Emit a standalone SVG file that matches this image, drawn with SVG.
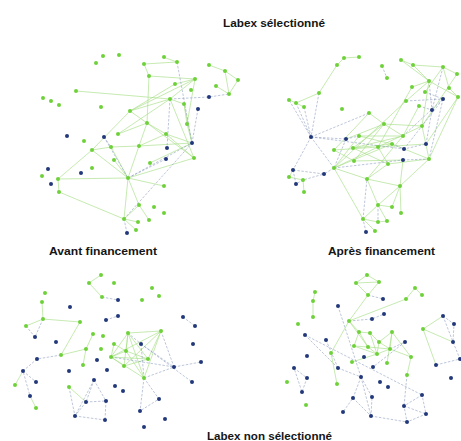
<svg xmlns="http://www.w3.org/2000/svg" width="461" height="441" viewBox="0 0 461 441">
<style>
.ge{fill:none;stroke:#a6de85;stroke-width:0.75;stroke-opacity:0.85}
.be{fill:none;stroke:#8797ba;stroke-width:0.65;stroke-dasharray:2.5 1.5;stroke-opacity:0.85}
.gn{fill:#6fd13a}
.bn{fill:#22387a}
.t{font-family:"Liberation Sans",Arial,sans-serif;font-weight:bold;font-size:10.5px;fill:#151515}
</style>
<rect width="461" height="441" fill="#fff"/>
<g id="connectors">
<path class="ge" d="M144,64L177,62M163,57L177,62M144,64L149,76L147,123M76,91L170,99M209,65L225,71L238,80L229,94M225,71L229,94M170,99L195,79M175,84L195,79M130,111L195,79M130,111L175,84M130,111L170,99M170,99L184,104L187,124M195,79L187,124M130,111L92,150L58,179L59,192L124,219M58,179L128,178M147,123L118,134M147,123L166,134M147,123L139,146M147,123L194,158M92,150L111,147L139,146L166,134M139,146L192,143M128,178L139,146M128,178L194,158M128,178L139,205M128,178L124,219L139,205L149,220M124,219L138,222M128,178L164,186M170,99L194,158M166,134L192,143M187,124L192,143M150,163L192,143M111,147L128,178M92,150L128,178M118,134L170,99M130,111L147,123M216,86L229,94M149,76L195,79M124,219L136,230M114,160L128,178M166,134L194,158M184,104L192,143"/>
<path class="be" d="M177,62L192,143M170,99L209,97L229,94M104,137L128,178M128,178L192,143M128,178L166,159M170,99L167,148M124,219L192,143M198,109L192,143M104,137L111,147M127,233L124,219"/>
<path class="ge" d="M344,58L359,57M337,65L344,58M337,65L319,93L296,103L289,100M304,107L296,103M401,60L413,65L443,67L457,74M413,65L429,81M401,60L429,81L458,97M443,67L449,88L458,97M412,87L429,81M457,74L422,126M458,97L426,144M458,97L429,159M429,81L406,101M443,67L425,92M384,124L422,126M384,124L403,136M384,124L353,148M359,136L403,136M334,150L378,147L426,144M353,148L392,144M354,161L403,160M334,168L392,144M334,168L422,126M334,168L406,101M334,168L367,179L400,186M367,179L378,205M367,179L403,136M367,179L388,164M334,168L363,219L378,205L392,207M378,205L400,186M363,219L378,222L387,221M363,219L375,231M400,186L429,159M400,186L403,160M388,164L429,159M354,161L384,124M378,147L412,87M422,126L429,81M346,139L384,124M359,136L392,144M369,113L334,150M289,177L303,180L304,192M293,170L289,177M334,150L354,161M384,124L369,113M422,126L429,159M392,144L429,159M378,147L388,164M353,148L388,164M401,213L400,186M392,207L400,186M403,136L419,106M334,168L359,136M353,148L403,136M378,205L387,221"/>
<path class="be" d="M319,93L311,137M296,103L311,137M304,107L311,137M382,66L387,78M425,92L443,99M406,101L443,99M419,106L432,110M429,81L432,110M443,67L432,110M311,137L346,139M311,137L293,170M311,137L334,168M311,137L369,113M311,137L404,149M346,139L334,168M346,139L359,136M392,144L404,149L426,144M403,160L429,159M334,168L324,174L293,170M293,170L296,184L303,180L324,174M366,232L363,219M443,99L429,159M426,144L432,110M403,136L443,99M311,137L289,100M404,149L443,99M334,168L403,160M378,205L378,222M363,219L367,179"/>
<path class="ge" d="M101,275L89,283L102,297M43,319L26,326M43,319L80,322M80,322L61,355M43,319L42,302M61,355L86,349M93,334L86,349L83,365M128,333L161,331M128,333L111,357M128,333L124,366M128,333L148,359M128,333L144,378M128,333L126,351M161,331L111,357M161,331L144,378M161,331L148,359M161,331L124,366M111,357L148,359M111,357L144,378M111,357L124,366M124,366L148,359M126,351L148,359M114,344L111,357M23,371L15,385M30,396L36,408M69,387L86,402M114,344L126,351M126,351L144,378M111,357L126,351"/>
<path class="be" d="M102,297L118,300M26,326L35,337M43,319L35,337M106,320L118,316M183,317L195,326M61,355L37,359M37,359L23,371L30,396M23,371L36,382M161,331L174,367M111,357L174,367M141,344L174,367M141,344L144,378M141,344L192,382M174,367L201,362M144,378L174,367M144,378L140,411M144,378L159,399L140,411M69,387L75,416M94,380L86,402M94,380L75,416M94,380L106,401M86,402L106,401M75,416L105,420M86,402L75,416M106,401L105,420M128,333L141,344"/>
<path class="ge" d="M367,275L356,283L368,295L379,282L367,275M356,283L379,282M368,295L349,321M315,292L313,301M415,288L422,295M415,288L406,299M406,299L349,321M349,321L331,353L337,384M349,321L359,332L354,346M349,321L368,347M359,332L370,333M354,346L377,354L368,347M370,333L377,354M392,332L379,342L390,349L392,332M392,332L387,363M377,354L390,349M377,354L352,362M390,349L411,357M411,357L407,375M423,329L443,316M423,329L453,342M423,329L436,365M379,342L377,354M368,347L390,349M359,332L368,347M354,346L368,347M392,332L411,357M370,333L379,342M313,301L313,317"/>
<path class="be" d="M368,295L383,299M349,321L372,319L384,314M390,349L405,342M405,342L373,367M305,335L338,368M305,335L422,395M326,340L338,368M338,368L361,377M361,377L353,398L343,412M361,377L372,397L371,416M361,377L371,416M353,398L371,416M422,395L404,406L407,422L426,414L422,395M404,406L426,414M371,416L407,422M407,375L404,406M294,368L307,378L302,392L294,368M443,316L454,324L453,342L460,359L436,365M443,316L453,342M338,306L361,377"/>
</g>
<g id="net-top-left">
<g class="gn">
<circle cx="103" cy="56" r="2"/><circle cx="119" cy="55" r="2"/><circle cx="96" cy="63" r="2"/><circle cx="164" cy="57" r="2"/><circle cx="177" cy="62" r="2"/><circle cx="144" cy="64" r="2"/><circle cx="209" cy="65" r="2"/><circle cx="225" cy="71" r="2"/><circle cx="238" cy="80" r="2"/><circle cx="149" cy="76" r="2"/><circle cx="195" cy="79" r="2"/><circle cx="175" cy="84" r="2"/><circle cx="216" cy="86" r="2"/><circle cx="191" cy="90" r="2"/><circle cx="76" cy="91" r="2"/><circle cx="229" cy="94" r="2"/><circle cx="43" cy="98" r="2"/><circle cx="51" cy="101" r="2"/><circle cx="170" cy="99" r="2"/><circle cx="184" cy="104" r="2"/><circle cx="59" cy="105" r="2"/><circle cx="101" cy="107" r="2"/><circle cx="130" cy="111" r="2"/><circle cx="147" cy="123" r="2"/><circle cx="187" cy="124" r="2"/><circle cx="118" cy="134" r="2"/><circle cx="166" cy="134" r="2"/><circle cx="84" cy="141" r="2"/><circle cx="92" cy="150" r="2"/><circle cx="111" cy="147" r="2"/><circle cx="139" cy="146" r="2"/><circle cx="194" cy="158" r="2"/><circle cx="114" cy="160" r="2"/><circle cx="150" cy="163" r="2"/><circle cx="92" cy="168" r="2"/><circle cx="42" cy="176" r="2"/><circle cx="58" cy="179" r="2"/><circle cx="128" cy="178" r="2"/><circle cx="164" cy="186" r="2"/><circle cx="59" cy="192" r="2"/><circle cx="139" cy="205" r="2"/><circle cx="154" cy="207" r="2"/><circle cx="164" cy="213" r="2"/><circle cx="124" cy="219" r="2"/><circle cx="149" cy="220" r="2"/><circle cx="138" cy="222" r="2"/><circle cx="136" cy="230" r="2"/>
</g>
<g class="bn">
<circle cx="209" cy="97" r="2"/><circle cx="198" cy="109" r="2"/><circle cx="67" cy="136" r="2"/><circle cx="104" cy="137" r="2"/><circle cx="167" cy="148" r="2"/><circle cx="192" cy="143" r="2"/><circle cx="166" cy="159" r="2"/><circle cx="48" cy="169" r="2"/><circle cx="81" cy="173" r="2"/><circle cx="51" cy="184" r="2"/><circle cx="127" cy="233" r="2"/>
</g>
</g>
<g id="net-top-right">
<g class="gn">
<circle cx="337" cy="65" r="2"/><circle cx="344" cy="58" r="2"/><circle cx="359" cy="57" r="2"/><circle cx="382" cy="66" r="2"/><circle cx="387" cy="78" r="2"/><circle cx="401" cy="60" r="2"/><circle cx="413" cy="65" r="2"/><circle cx="429" cy="81" r="2"/><circle cx="443" cy="67" r="2"/><circle cx="457" cy="74" r="2"/><circle cx="449" cy="88" r="2"/><circle cx="458" cy="97" r="2"/><circle cx="412" cy="87" r="2"/><circle cx="425" cy="92" r="2"/><circle cx="406" cy="101" r="2"/><circle cx="419" cy="106" r="2"/><circle cx="319" cy="93" r="2"/><circle cx="289" cy="100" r="2"/><circle cx="296" cy="103" r="2"/><circle cx="304" cy="107" r="2"/><circle cx="342" cy="109" r="2"/><circle cx="369" cy="113" r="2"/><circle cx="384" cy="124" r="2"/><circle cx="422" cy="126" r="2"/><circle cx="359" cy="136" r="2"/><circle cx="403" cy="136" r="2"/><circle cx="334" cy="150" r="2"/><circle cx="353" cy="148" r="2"/><circle cx="378" cy="147" r="2"/><circle cx="392" cy="144" r="2"/><circle cx="354" cy="161" r="2"/><circle cx="388" cy="164" r="2"/><circle cx="429" cy="159" r="2"/><circle cx="334" cy="168" r="2"/><circle cx="367" cy="179" r="2"/><circle cx="400" cy="186" r="2"/><circle cx="289" cy="177" r="2"/><circle cx="303" cy="180" r="2"/><circle cx="304" cy="192" r="2"/><circle cx="378" cy="205" r="2"/><circle cx="392" cy="207" r="2"/><circle cx="401" cy="213" r="2"/><circle cx="363" cy="219" r="2"/><circle cx="378" cy="222" r="2"/><circle cx="387" cy="221" r="2"/><circle cx="375" cy="231" r="2"/>
</g>
<g class="bn">
<circle cx="443" cy="99" r="2"/><circle cx="432" cy="110" r="2"/><circle cx="311" cy="137" r="2"/><circle cx="346" cy="139" r="2"/><circle cx="404" cy="149" r="2"/><circle cx="426" cy="144" r="2"/><circle cx="403" cy="160" r="2"/><circle cx="293" cy="170" r="2"/><circle cx="324" cy="174" r="2"/><circle cx="296" cy="184" r="2"/><circle cx="366" cy="232" r="2"/>
</g>
</g>
<g id="net-bottom-left">
<g class="gn">
<circle cx="101" cy="275" r="2"/><circle cx="89" cy="283" r="2"/><circle cx="114" cy="283" r="2"/><circle cx="45" cy="293" r="2"/><circle cx="102" cy="297" r="2"/><circle cx="152" cy="288" r="2"/><circle cx="159" cy="296" r="2"/><circle cx="142" cy="300" r="2"/><circle cx="42" cy="302" r="2"/><circle cx="43" cy="319" r="2"/><circle cx="26" cy="326" r="2"/><circle cx="80" cy="322" r="2"/><circle cx="93" cy="334" r="2"/><circle cx="103" cy="336" r="2"/><circle cx="128" cy="333" r="2"/><circle cx="161" cy="331" r="2"/><circle cx="114" cy="344" r="2"/><circle cx="126" cy="351" r="2"/><circle cx="86" cy="349" r="2"/><circle cx="101" cy="349" r="2"/><circle cx="61" cy="355" r="2"/><circle cx="111" cy="357" r="2"/><circle cx="148" cy="359" r="2"/><circle cx="124" cy="366" r="2"/><circle cx="83" cy="365" r="2"/><circle cx="144" cy="378" r="2"/><circle cx="15" cy="385" r="2"/><circle cx="69" cy="387" r="2"/><circle cx="36" cy="408" r="2"/>
</g>
<g class="bn">
<circle cx="118" cy="300" r="2"/><circle cx="70" cy="307" r="2"/><circle cx="118" cy="316" r="2"/><circle cx="106" cy="320" r="2"/><circle cx="183" cy="317" r="2"/><circle cx="195" cy="326" r="2"/><circle cx="35" cy="337" r="2"/><circle cx="56" cy="342" r="2"/><circle cx="141" cy="344" r="2"/><circle cx="193" cy="344" r="2"/><circle cx="37" cy="359" r="2"/><circle cx="97" cy="360" r="2"/><circle cx="201" cy="362" r="2"/><circle cx="174" cy="367" r="2"/><circle cx="69" cy="371" r="2"/><circle cx="107" cy="370" r="2"/><circle cx="23" cy="371" r="2"/><circle cx="36" cy="382" r="2"/><circle cx="192" cy="382" r="2"/><circle cx="94" cy="380" r="2"/><circle cx="115" cy="386" r="2"/><circle cx="123" cy="391" r="2"/><circle cx="30" cy="396" r="2"/><circle cx="159" cy="399" r="2"/><circle cx="106" cy="401" r="2"/><circle cx="86" cy="402" r="2"/><circle cx="140" cy="411" r="2"/><circle cx="75" cy="416" r="2"/><circle cx="105" cy="420" r="2"/><circle cx="165" cy="419" r="2"/><circle cx="144" cy="427" r="2"/>
</g>
</g>
<g id="net-bottom-right">
<g class="gn">
<circle cx="367" cy="275" r="2"/><circle cx="356" cy="283" r="2"/><circle cx="379" cy="282" r="2"/><circle cx="368" cy="295" r="2"/><circle cx="315" cy="292" r="2"/><circle cx="313" cy="301" r="2"/><circle cx="415" cy="288" r="2"/><circle cx="422" cy="295" r="2"/><circle cx="406" cy="299" r="2"/><circle cx="313" cy="317" r="2"/><circle cx="298" cy="324" r="2"/><circle cx="349" cy="321" r="2"/><circle cx="359" cy="332" r="2"/><circle cx="370" cy="333" r="2"/><circle cx="392" cy="332" r="2"/><circle cx="423" cy="329" r="2"/><circle cx="379" cy="342" r="2"/><circle cx="354" cy="346" r="2"/><circle cx="368" cy="347" r="2"/><circle cx="390" cy="349" r="2"/><circle cx="377" cy="354" r="2"/><circle cx="331" cy="353" r="2"/><circle cx="411" cy="357" r="2"/><circle cx="387" cy="363" r="2"/><circle cx="352" cy="362" r="2"/><circle cx="407" cy="375" r="2"/><circle cx="337" cy="384" r="2"/><circle cx="287" cy="382" r="2"/><circle cx="306" cy="405" r="2"/>
</g>
<g class="bn">
<circle cx="383" cy="299" r="2"/><circle cx="338" cy="306" r="2"/><circle cx="372" cy="319" r="2"/><circle cx="384" cy="314" r="2"/><circle cx="443" cy="316" r="2"/><circle cx="454" cy="324" r="2"/><circle cx="305" cy="335" r="2"/><circle cx="326" cy="340" r="2"/><circle cx="405" cy="342" r="2"/><circle cx="453" cy="342" r="2"/><circle cx="307" cy="356" r="2"/><circle cx="364" cy="357" r="2"/><circle cx="460" cy="359" r="2"/><circle cx="436" cy="365" r="2"/><circle cx="373" cy="367" r="2"/><circle cx="294" cy="368" r="2"/><circle cx="338" cy="368" r="2"/><circle cx="361" cy="377" r="2"/><circle cx="307" cy="378" r="2"/><circle cx="451" cy="378" r="2"/><circle cx="380" cy="382" r="2"/><circle cx="388" cy="387" r="2"/><circle cx="302" cy="392" r="2"/><circle cx="353" cy="398" r="2"/><circle cx="372" cy="397" r="2"/><circle cx="422" cy="395" r="2"/><circle cx="404" cy="406" r="2"/><circle cx="343" cy="412" r="2"/><circle cx="371" cy="416" r="2"/><circle cx="426" cy="414" r="2"/><circle cx="407" cy="422" r="2"/>
</g>
</g>
<g id="labels">
<text class="t" x="223" y="27" textLength="102" lengthAdjust="spacingAndGlyphs">Labex sélectionné</text>
<text class="t" x="49" y="255" textLength="108" lengthAdjust="spacingAndGlyphs">Avant financement</text>
<text class="t" x="328" y="255" textLength="107" lengthAdjust="spacingAndGlyphs">Après financement</text>
<text class="t" x="207" y="440" textLength="125" lengthAdjust="spacingAndGlyphs">Labex non sélectionné</text>
</g>
</svg>
